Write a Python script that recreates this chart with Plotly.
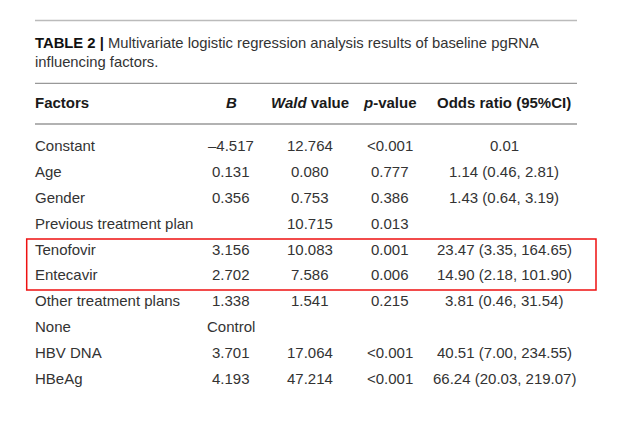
import plotly.graph_objects as go

# ---- data ----
factors = ["Constant", "Age", "Gender", "Previous treatment plan", "Tenofovir",
           "Entecavir", "Other treatment plans", "None", "HBV DNA", "HBeAg"]
b_values = ["\u20134.517", "0.131", "0.356", "", "3.156", "2.702", "1.338", "Control", "3.701", "4.193"]
wald_values = ["12.764", "0.080", "0.753", "10.715", "10.083", "7.586", "1.541", "", "17.064", "47.214"]
p_values = ["<0.001", "0.777", "0.386", "0.013", "0.001", "0.006", "0.215", "", "<0.001", "<0.001"]
odds_ratios = ["0.01", "1.14 (0.46, 2.81)", "1.43 (0.64, 3.19)", "", "23.47 (3.35, 164.65)",
               "14.90 (2.18, 101.90)", "3.81 (0.46, 31.54)", "", "40.51 (7.00, 234.55)",
               "66.24 (20.03, 219.07)"]
headers = ["Factors", "<i>B</i>", "<i>Wald</i> value", "<i>p</i>-value", "Odds ratio (95%CI)"]
highlighted_rows = ["Tenofovir", "Entecavir"]
title_bold = "TABLE 2 |"
title_text = "Multivariate logistic regression analysis results of baseline pgRNA<br>influencing factors."

FONT = "Liberation Sans, Arial, Helvetica, sans-serif"
BODY = "#333333"

# layout geometry (pixel-like data coordinates)
col_x = [33, 231, 310, 390, 504]
col_anchor = ["left", "center", "center", "center", "center"]
row0_y = 145.4
row_step = 25.9
header_y = 102.8
PAGE_OFFSET = 8  # default page margin of the html body

fig = go.Figure()
fig.add_trace(go.Scatter(x=[0, 620], y=[0, 421], mode="markers",
                         marker=dict(opacity=0), hoverinfo="skip", showlegend=False))

ann = []
# title
ann.append(dict(x=33, y=52, xref="x", yref="y", xanchor="left", yanchor="middle",
                text=f"<b>{title_bold}</b> <span style='color:{BODY}'>{title_text}</span>",
                align="left", showarrow=False,
                font=dict(family=FONT, size=14.8, color="#111111")))
# headers
for h, x, a in zip(headers, col_x, col_anchor):
    ann.append(dict(x=x, y=header_y, xref="x", yref="y", xanchor=a, yanchor="middle",
                    text=f"<b>{h}</b>", showarrow=False,
                    font=dict(family=FONT, size=15, color="#1a1a1a")))
# body
columns = [factors, b_values, wald_values, p_values, odds_ratios]
for ci, col in enumerate(columns):
    for ri, val in enumerate(col):
        if val == "":
            continue
        ann.append(dict(x=col_x[ci], y=row0_y + ri * row_step, xref="x", yref="y",
                        xanchor=col_anchor[ci], yanchor="middle", text=val, showarrow=False,
                        font=dict(family=FONT, size=15, color=BODY)))

shapes = [
    dict(type="line", xref="x", yref="y", x0=35, x1=577, y0=20.5, y1=20.5,
         line=dict(color="#bbbbbb", width=1.6)),
    dict(type="line", xref="x", yref="y", x0=35, x1=577, y0=83.3, y1=83.3,
         line=dict(color="#999999", width=1.3)),
    dict(type="line", xref="x", yref="y", x0=35, x1=577, y0=124, y1=124,
         line=dict(color="#999999", width=1.3)),
]
# highlight box around selected rows
idx = [factors.index(r) for r in highlighted_rows]
y_top = row0_y + min(idx) * row_step - 10
y_bot = row0_y + max(idx) * row_step + 15
shapes.append(dict(type="rect", xref="x", yref="y", x0=26.7, x1=596, y0=y_top, y1=y_bot,
                   line=dict(color="#ee1111", width=1.5), fillcolor="rgba(0,0,0,0)"))

fig.update_layout(
    width=620, height=421, margin=dict(l=0, r=0, t=0, b=0),
    paper_bgcolor="white", plot_bgcolor="white",
    xaxis=dict(range=[PAGE_OFFSET, 620 + PAGE_OFFSET], visible=False, fixedrange=True),
    yaxis=dict(range=[421 + PAGE_OFFSET, PAGE_OFFSET], visible=False, fixedrange=True),
    annotations=ann, shapes=shapes, showlegend=False,
)
fig.write_html("out.html")
